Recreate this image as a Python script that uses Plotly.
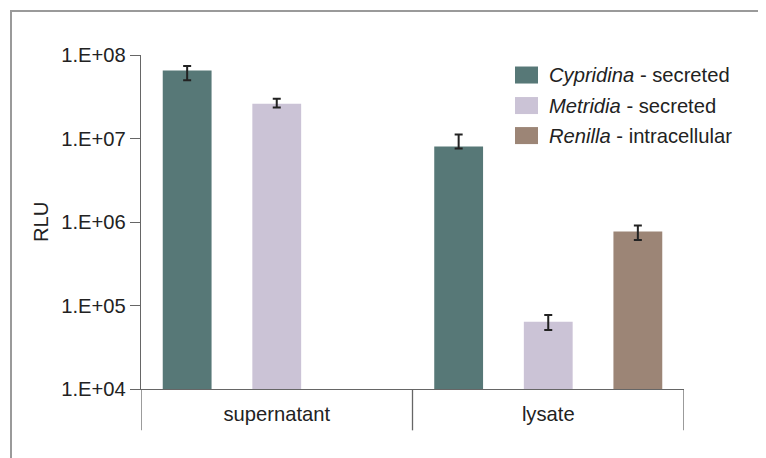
import plotly.graph_objects as go

categories = ["supernatant", "lysate"]
series_names = ["Cypridina", "Metridia", "Renilla"]
series_suffix = [" - secreted", " - secreted", " - intracellular"]
cypridina = [6.5e7, 8.0e6]
cypridina_plus = [0.9e7, 3.2e6]
cypridina_minus = [1.5e7, 0.4e6]
metridia = [2.6e7, 6.4e4]
metridia_plus = [0.4e7, 1.3e4]
metridia_minus = [0.25e7, 1.3e4]
renilla = [None, 7.7e5]
renilla_plus = [None, 1.4e5]
renilla_minus = [None, 1.6e5]
tick_vals = [1e4, 1e5, 1e6, 1e7, 1e8]
tick_text = ["1.E+04", "1.E+05", "1.E+06", "1.E+07", "1.E+08"]
colors = ["#577877", "#CBC3D6", "#9C8576"]

FONT = "Liberation Sans, Arial, sans-serif"
FS = 20.2
TXT = "#222222"
AX = "#666666"

fig = go.Figure()
for name, vals, p, m, c in [
    (series_names[0], cypridina, cypridina_plus, cypridina_minus, colors[0]),
    (series_names[1], metridia, metridia_plus, metridia_minus, colors[1]),
    (series_names[2], renilla, renilla_plus, renilla_minus, colors[2]),
]:
    fig.add_trace(go.Bar(
        x=categories, y=vals, name=name, marker=dict(color=c, line=dict(width=0)),
        error_y=dict(type="data", array=p, arrayminus=m, symmetric=False,
                     color="#222222", thickness=2, width=4),
        showlegend=False,
    ))

# page is offset by the default 8px body margin
OFF = 8
W, H = 766 - OFF, 458 - OFF
L, R, T = 141 - OFF, 82, 55 - OFF
B = H - (388.7 - OFF)
pw = W - L - R
ph = H - T - B

def px_x(px):
    return (px - OFF - L) / pw

def px_y(py):
    return (388.7 - py) / ph

shapes = []
# outer frame
shapes.append(dict(type="rect", xref="paper", yref="paper",
                   x0=px_x(11), x1=px_x(763), y0=px_y(520), y1=px_y(11),
                   line=dict(color="#9a9a9a", width=2), layer="below"))
# category separators
for xv in [-0.5, 0.5, 1.5]:
    shapes.append(dict(type="line", xref="x", yref="paper", x0=xv, x1=xv,
                       y0=px_y(430), y1=0, line=dict(color=AX, width=1.3)))

annotations = []
# legend
rows = [75, 105.5, 135.5]
for i in range(3):
    shapes.append(dict(type="rect", xref="paper", yref="paper",
                       x0=px_x(515), x1=px_x(538), y0=px_y(rows[i] + 8.5), y1=px_y(rows[i] - 8.5),
                       fillcolor=colors[i], line=dict(width=0)))
    annotations.append(dict(xref="paper", yref="paper", x=px_x(547), y=px_y(rows[i]),
                            xanchor="left", yanchor="middle", showarrow=False,
                            text="<i>" + series_names[i] + "</i>" + series_suffix[i],
                            font=dict(family=FONT, size=FS, color=TXT)))
annotations.append(dict(xref="paper", yref="paper", x=px_x(41), y=0.5, textangle=-90,
                        xanchor="center", yanchor="middle", showarrow=False, text="RLU",
                        font=dict(family=FONT, size=FS, color=TXT)))

fig.update_layout(
    width=W, height=H, margin=dict(l=L, r=R, t=T, b=B),
    paper_bgcolor="white", plot_bgcolor="white",
    barmode="group", bargap=0.01, bargroupgap=0.455,
    font=dict(family=FONT, size=FS, color=TXT),
    shapes=shapes, annotations=annotations,
    xaxis=dict(type="category", range=[-0.5, 1.5], showline=True, linecolor=AX, linewidth=1.3,
               ticks="", showgrid=False, zeroline=False, ticklabelstandoff=7,
               tickfont=dict(family=FONT, size=FS, color=TXT)),
    yaxis=dict(type="log", range=[4, 8], showline=True, linecolor=AX, linewidth=1.3,
               ticks="outside", ticklen=10, tickwidth=1.3, tickcolor=AX,
               tickvals=tick_vals, ticktext=tick_text, showgrid=False, zeroline=False,
               tickfont=dict(family=FONT, size=FS, color=TXT)),
)
fig.write_html("out.html")
